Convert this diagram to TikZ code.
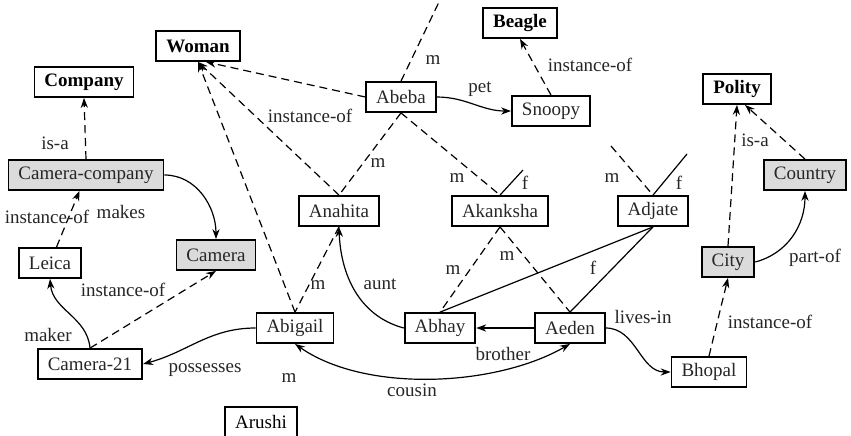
\documentclass[tikz,border=0pt]{standalone}
\usepackage{fontspec}
\setmainfont{Liberation Serif}
\usetikzlibrary{arrows.meta}

\begin{document}
\begin{tikzpicture}[
    x=0.5pt, y=-0.5pt,
    font=\fontsize{9.5}{11}\selectfont,
    ent/.style={draw, line width=0.9pt, minimum height=15pt, inner xsep=5pt, inner ysep=0pt, text=black!85},
    cls/.style={ent, text=black, font=\fontsize{9.5}{11}\selectfont\bfseries},
    typ/.style={ent, fill=black!14},
    lbl/.style={inner sep=1pt, text=black!85},
    rel/.style={line width=0.6pt, -{Stealth[length=5pt, width=3.6pt]}},
    dsh/.style={line width=0.6pt, dash pattern=on 4pt off 2.5pt},
    inst/.style={rel, dsh},
    kin/.style={line width=0.6pt},
  ]
  \useasboundingbox (0,0) rectangle (851,435);

  % ---- classi e tipi ----------------------------------------------------------
  \node[cls] (woman)   at (198,46)  {Woman};
  \node[cls] (company) at (84,82)   {Company};
  \node[cls] (beagle)  at (520,23)  {Beagle};
  \node[cls] (polity)  at (737,89)  {Polity};
  \node[typ] (camco)   at (86,175)  {Camera-company};
  \node[typ] (camera)  at (216,255) {Camera};
  \node[typ] (country) at (805,175) {Country};
  \node[typ] (city)    at (728,262) {City};

  % ---- istanze --------------------------------------------------------------
  \node[ent] (abeba)   at (401,97)  {Abeba};
  \node[ent] (snoopy)  at (551,111) {Snoopy};
  \node[ent] (anahita) at (339,211) {Anahita};
  \node[ent] (akanksha) at (500,211) {Akanksha};
  \node[ent] (adjate)  at (653,211) {Adjate};
  \node[ent] (leica)   at (50,263)  {Leica};
  \node[ent] (abigail) at (295,328) {Abigail};
  \node[ent] (abhay)   at (440,328) {Abhay};
  \node[ent] (aeden)   at (570,328) {Aeden};
  \node[ent] (cam21)   at (90,364)  {Camera-21};
  \node[ent] (bhopal)  at (709,372) {Bhopal};
  \node[ent, text=black] (arushi) at (261,422) {Arushi};

  % estremi liberi dei legami di parentela
  \coordinate (abebaup)  at (439,2);
  \coordinate (akankf)   at (523,170);
  \coordinate (adjatem)  at (611,146);
  \coordinate (adjatef)  at (687,154);

  % ---- instance-of / is-a (tratteggiati) ------------------------------------
  \draw[inst] (camco.north)   -- (company.south);
  \draw[inst] (leica)         -- (camco);
  \draw[inst] (cam21.north)   -- (camera.south);
  \draw[inst] (abigail.north) -- (woman.south);
  \draw[inst] (anahita.north) -- (woman.south);
  \draw[inst] (abeba.west)    -- ([xshift=4pt]woman.south);
  \draw[inst] (snoopy.north)  -- (beagle.south);
  \draw[inst] (bhopal.north)  -- (city.south);
  \draw[inst] (city.north)    -- (polity.south);
  \draw[inst] (country.north) -- ([xshift=4pt]polity.south);

  % ---- relazioni (curve piene) ----------------------------------------------
  \draw[rel] (camco.east) to[out=0, in=90] (camera.north);
  \draw[rel] (cam21.north) to[out=95, in=-85] (leica.south);
  \draw[rel] (abigail.west) to[out=180, in=15] (cam21.east);
  \draw[rel] (abeba.east) to[out=0, in=180] (snoopy.west);
  \draw[rel] (abhay.west) to[out=165, in=-88] (anahita.south);
  \draw[rel] (aeden.west) -- (abhay.east);
  \draw[rel, {Stealth[length=5pt, width=3.6pt]}-{Stealth[length=5pt, width=3.6pt]}]
        (abigail.south) to[out=-35, in=-150, looseness=0.8] (aeden.south);
  \draw[rel] (aeden.east) to[out=0, in=180] (bhopal.west);
  \draw[rel] (city.east) to[out=15, in=-90] (country.south);

  % ---- parentela: m tratteggiato, f pieno ------------------------------------
  \draw[dsh] (abeba.north) -- (abebaup);
  \draw[dsh] (abeba.south) -- (anahita.north);
  \draw[dsh] (abeba.south) -- (akanksha.north);
  \draw[kin] (akanksha.north) -- (akankf);
  \draw[dsh] (adjatem) -- (adjate.north);
  \draw[kin] (adjate.north) -- (adjatef);
  \draw[dsh] (anahita.south) -- (abigail.north);
  \draw[dsh] (akanksha.south) -- (abhay.north);
  \draw[dsh] (akanksha.south) -- (aeden.north);
  \draw[kin] (adjate.south) -- (abhay.north);
  \draw[kin] (adjate.south) -- (aeden.north);

  % ---- etichette ------------------------------------------------------------
  \node[lbl] (tisa1)  at (55,143)  {is-a};
  \node[lbl] (tins1)  at (47,217)  {instance-of};
  \node[lbl] (tmakes) at (121,212) {makes};
  \node[lbl] (tins2)  at (123,290) {instance-of};
  \node[lbl] (tmaker) at (48,335)  {maker};
  \node[lbl] (tposs)  at (205,370) {possesses};
  \node[lbl] (tm1)    at (289,378) {m};
  \node[lbl] (tm2)    at (318,285) {m};
  \node[lbl] (taunt)  at (380,284) {aunt};
  \node[lbl] (tcous)  at (412,390) {cousin};
  \node[lbl] (tbro)   at (503,354) {brother};
  \node[lbl] (tins3)  at (310,116) {instance-of};
  \node[lbl] (tm3)    at (378,163) {m};
  \node[lbl] (tm4)    at (433,60)  {m};
  \node[lbl] (tpet)   at (480,89)  {pet};
  \node[lbl] (tins4)  at (590,65)  {instance-of};
  \node[lbl] (tm5)    at (457,178) {m};
  \node[lbl] (tf1)    at (525,183) {f};
  \node[lbl] (tm6)    at (612,178) {m};
  \node[lbl] (tf2)    at (679,183) {f};
  \node[lbl] (tm7)    at (453,270) {m};
  \node[lbl] (tm8)    at (507,256) {m};
  \node[lbl] (tf3)    at (593,268) {f};
  \node[lbl] (tlives) at (643,317) {lives-in};
  \node[lbl] (tins5)  at (770,322) {instance-of};
  \node[lbl] (tpart)  at (815,258) {part-of};
  \node[lbl] (tisa2)  at (755,140) {is-a};

\end{tikzpicture}
\end{document}
